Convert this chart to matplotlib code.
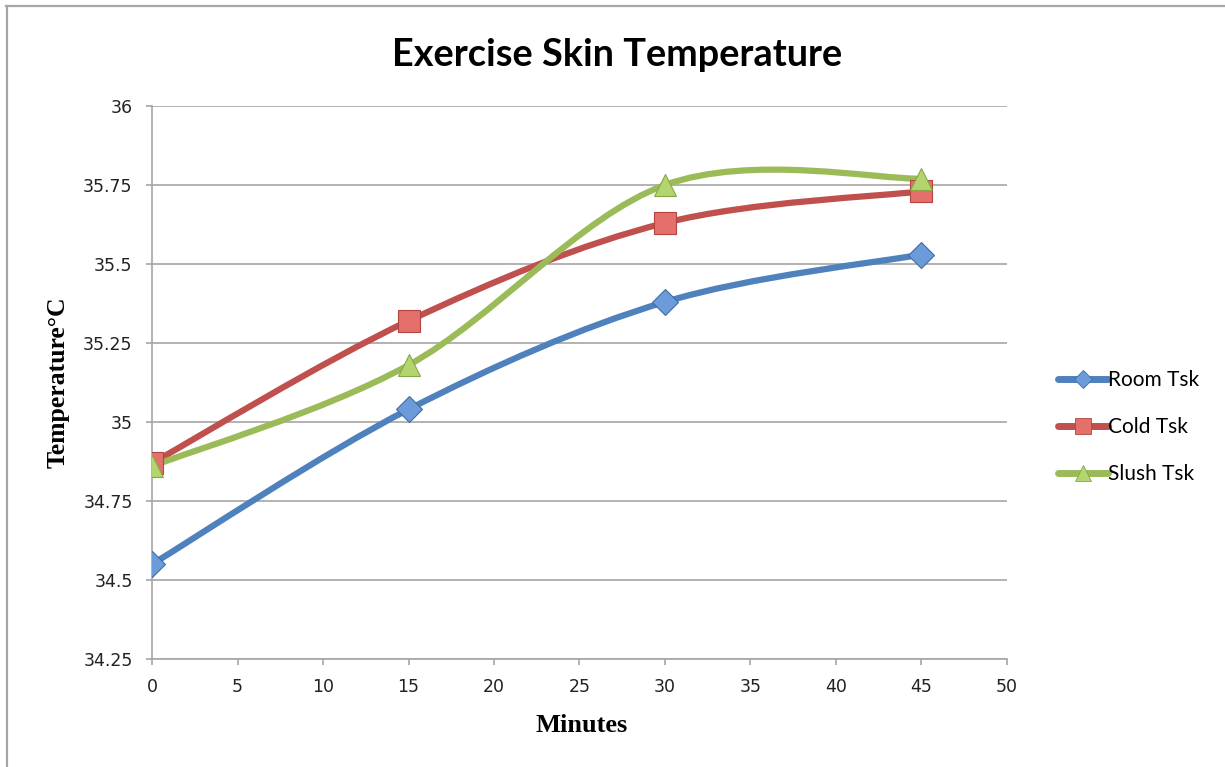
import numpy as np
import matplotlib
matplotlib.use("Agg")
import matplotlib.pyplot as plt
from matplotlib.path import Path
from matplotlib.patches import PathPatch
from matplotlib.lines import Line2D

minutes = [0, 15, 30, 45]
room_tsk = [34.55, 35.04, 35.38, 35.53]
cold_tsk = [34.87, 35.32, 35.63, 35.73]
slush_tsk = [34.86, 35.18, 35.75, 35.77]
series_names = ["Room Tsk", "Cold Tsk", "Slush Tsk"]
y_ticks = [34.25, 34.5, 34.75, 35, 35.25, 35.5, 35.75, 36]
x_ticks = [0, 5, 10, 15, 20, 25, 30, 35, 40, 45, 50]


def smooth_path(xs, ys):
    # Catmull-Rom style bezier through the points (like spreadsheet "smoothed line")
    pts = np.column_stack([xs, ys]).astype(float)
    n = len(pts)
    verts = [pts[0]]
    codes = [Path.MOVETO]
    for i in range(n - 1):
        p0 = pts[i - 1] if i > 0 else pts[i]
        p1 = pts[i]
        p2 = pts[i + 1]
        p3 = pts[i + 2] if i + 2 < n else pts[i + 1]
        c1 = p1 + (p2 - p0) / 6.0
        c2 = p2 - (p3 - p1) / 6.0
        verts += [c1, c2, p2]
        codes += [Path.CURVE4] * 3
    return Path(verts, codes)


fig = plt.figure(figsize=(12.25, 7.67), dpi=100)
ax = fig.add_axes([0.1241, 0.1408, 0.6979, 0.7210])

styles = [
    (room_tsk, "#4F81BD", "#6B9BD8", "#3E6DA6", "D", 13),
    (cold_tsk, "#C0504D", "#E46F6B", "#B04541", "s", 15.5),
    (slush_tsk, "#9BBB59", "#B4D46E", "#86A84A", "^", 16),
]

handles = []
for (vals, lc, fc, ec, mk, ms), name in zip(styles, series_names):
    patch = PathPatch(smooth_path(minutes, vals), facecolor="none", edgecolor=lc,
                      lw=4.5, capstyle="round", joinstyle="round", zorder=3)
    ax.add_patch(patch)
    ax.plot(minutes, vals, linestyle="none", marker=mk, markersize=ms,
            markerfacecolor=fc, markeredgecolor=ec, markeredgewidth=0.8, zorder=4)
    handles.append(Line2D([0], [0], color=lc, lw=5, solid_capstyle="round",
                          marker=mk, markersize=ms * 0.7, markerfacecolor=fc,
                          markeredgecolor=ec, markeredgewidth=0.6))

ax.set_xlim(0, 50)
ax.set_ylim(34.25, 36)
ax.set_xticks(x_ticks)
ax.set_yticks(y_ticks)
ax.set_xticklabels([str(t) for t in x_ticks])
ax.set_yticklabels(["34.25", "34.5", "34.75", "35", "35.25", "35.5", "35.75", "36"])

ax.yaxis.grid(True, color="#A6A6A6", lw=1.2)
ax.set_axisbelow(True)
for side in ["top", "right"]:
    ax.spines[side].set_visible(False)
for side in ["left", "bottom"]:
    ax.spines[side].set_color("#A6A6A6")
    ax.spines[side].set_linewidth(1.2)
ax.tick_params(axis="both", colors="#A6A6A6", labelcolor="#222222",
               direction="out", length=4, width=1.2, labelsize=12.5)
ax.tick_params(axis="y", pad=10)
ax.tick_params(axis="x", pad=10)

ax.set_xlabel("Minutes", fontfamily="Liberation Serif", fontweight="bold",
              fontsize=19, va="center")
ax.xaxis.set_label_coords(0.502, -0.121)
ax.set_ylabel("Temperature°C", fontfamily="Liberation Serif", fontweight="bold",
              fontsize=18.5, va="center")
ax.yaxis.set_label_coords(-0.110, 0.50)

fig.text(617 / 1225, 1 - 55 / 767, "Exercise Skin Temperature", fontfamily="Lato",
         fontweight="bold", fontsize=27.3, ha="center", va="center")

fig.legend(handles, series_names, loc="center left",
           bbox_to_anchor=(0.848, 0.443), frameon=False,
           prop={"family": "Lato", "size": 15}, handlelength=2.4,
           handletextpad=0.0, labelspacing=1.3)

# outer frame edges
fig.add_artist(Line2D([6 / 1225, 1], [1 - 5.5 / 767, 1 - 5.5 / 767],
                      transform=fig.transFigure, color="#A6A6A6", lw=1.6))
fig.add_artist(Line2D([6.5 / 1225, 6.5 / 1225], [0, 1 - 5.5 / 767],
                      transform=fig.transFigure, color="#A6A6A6", lw=1.6))

fig.savefig("out.png", dpi=100, facecolor="white")
